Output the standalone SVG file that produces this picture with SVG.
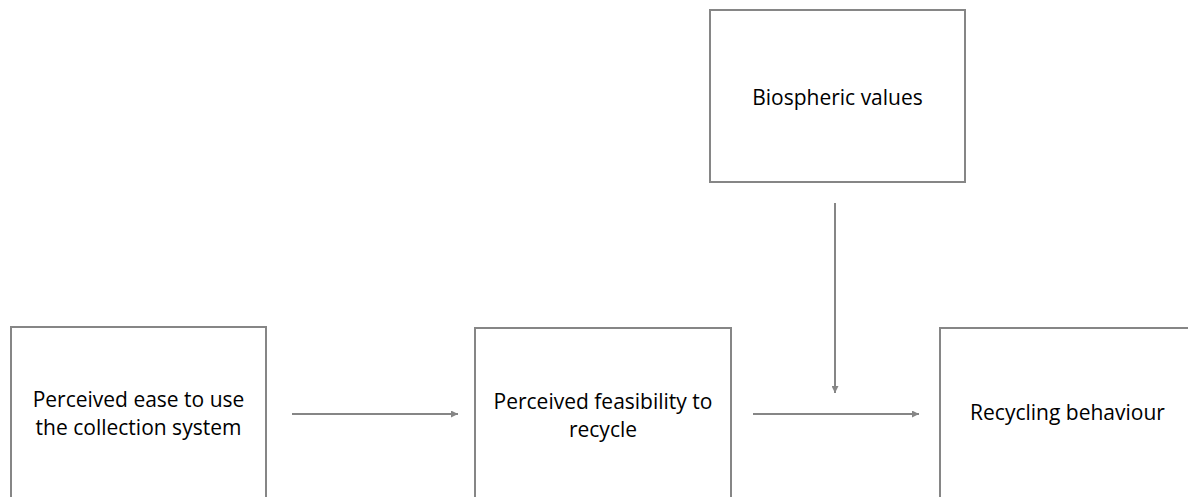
<svg xmlns="http://www.w3.org/2000/svg" width="1188" height="497" viewBox="0 0 1188 497">
  <style>
    .box { fill: #ffffff; stroke: #868686; stroke-width: 2; }
    .lbl { font-family: "Open Sans", "Noto Sans", sans-serif; font-size: 21px; fill: #000000; text-anchor: middle; }
    .edge { stroke: #868686; stroke-width: 2; fill: none; marker-end: url(#arrow); }
  </style>
  <defs>
    <marker id="arrow" viewBox="0 0 10 10" refX="10" refY="5" markerWidth="4" markerHeight="3.5" markerUnits="strokeWidth" orient="auto">
      <path d="M0,0 L10,5 L0,10 Z" fill="#868686"/>
    </marker>
  </defs>
  <rect width="1188" height="497" fill="#ffffff"/>

  <g id="node-biospheric">
    <rect class="box" x="710" y="10" width="255" height="172"/>
    <text class="lbl" x="837.5" y="105">Biospheric values</text>
  </g>

  <g id="node-ease">
    <rect class="box" x="11" y="327" width="255" height="190"/>
    <text class="lbl" x="138.5" y="407">Perceived ease to use</text>
    <text class="lbl" x="138.5" y="435">the collection system</text>
  </g>

  <g id="node-feasibility">
    <rect class="box" x="475" y="328" width="256" height="190"/>
    <text class="lbl" x="603" y="409">Perceived feasibility to</text>
    <text class="lbl" x="603" y="437">recycle</text>
  </g>

  <g id="node-behaviour">
    <rect class="box" x="940" y="328" width="255" height="190"/>
    <text class="lbl" x="1067.5" y="420">Recycling behaviour</text>
  </g>

  <g id="connectors">
    <line class="edge" x1="292" y1="414" x2="458" y2="414"/>
    <line class="edge" x1="753" y1="414" x2="919" y2="414"/>
    <line class="edge" x1="835" y1="203" x2="835" y2="393"/>
  </g>
</svg>
